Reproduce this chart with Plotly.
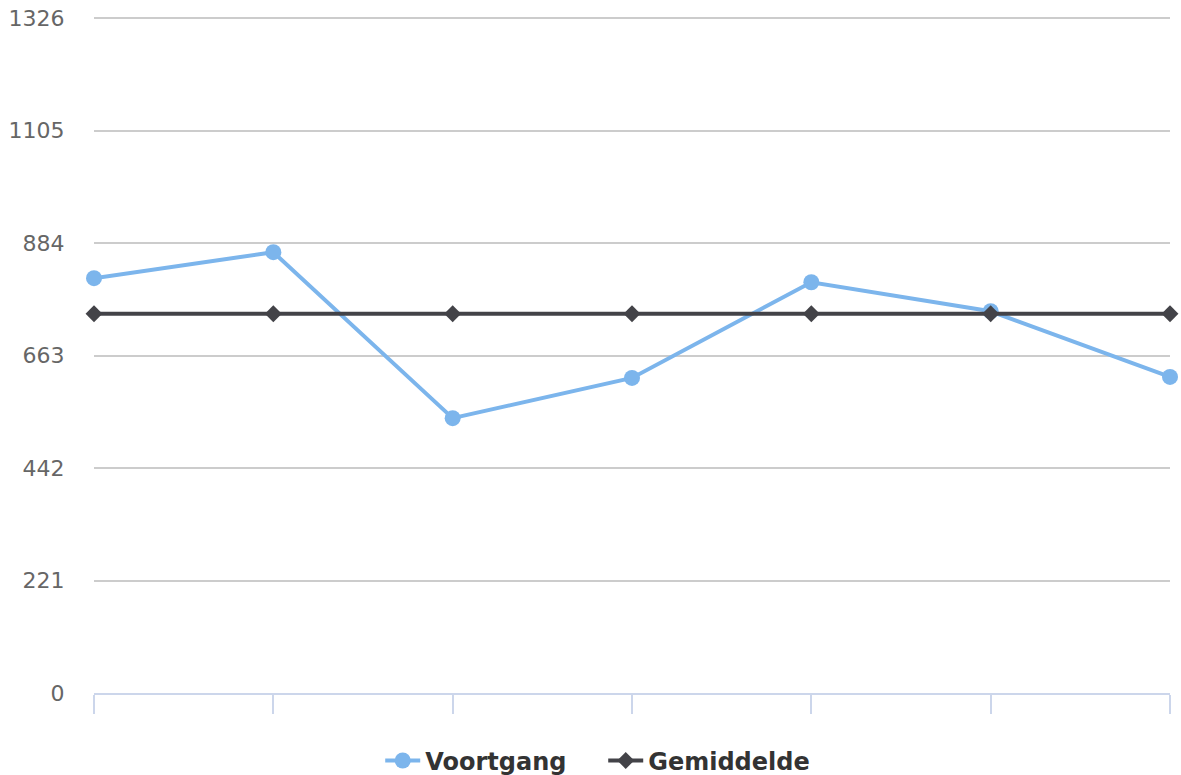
import plotly.graph_objects as go

categories = [0, 1, 2, 3, 4, 5, 6]
voortgang = [815, 866, 540, 619, 807, 750, 621]
gemiddelde = [745, 745, 745, 745, 745, 745, 745]
y_ticks = [0, 221, 442, 663, 884, 1105, 1326]

fig = go.Figure()
fig.add_trace(go.Scatter(
    x=categories, y=voortgang, name="Voortgang", mode="lines+markers",
    line=dict(color="#7cb5ec", width=4),
    marker=dict(symbol="circle", size=16, color="#7cb5ec"),
    cliponaxis=False,
))
fig.add_trace(go.Scatter(
    x=categories, y=gemiddelde, name="Gemiddelde", mode="lines+markers",
    line=dict(color="#434348", width=4),
    marker=dict(symbol="diamond", size=13, color="#434348"),
    cliponaxis=False,
))

fig.update_layout(
    width=1181, height=775,
    margin=dict(l=94, r=11, t=14, b=82, autoexpand=False),
    paper_bgcolor="white", plot_bgcolor="white",
    font=dict(family="DejaVu Sans, sans-serif"),
    showlegend=True,
    legend=dict(
        orientation="h", x=0.266, xanchor="left", y=-0.1, yanchor="middle",
        font=dict(size=24, color="#333333", family="DejaVu Sans, sans-serif", weight="bold"),
        itemwidth=35, entrywidth=173, entrywidthmode="pixels",
    ),
    xaxis=dict(
        range=[0, 6], tickvals=categories, showticklabels=False,
        ticks="outside", ticklen=19, tickcolor="#ccd6eb", tickwidth=2,
        showline=True, linecolor="#ccd6eb", linewidth=2,
        showgrid=False, zeroline=False, fixedrange=True,
    ),
    yaxis=dict(
        range=[0, 1334], tickvals=y_ticks, ticktext=[str(v) for v in y_ticks],
        showgrid=True, gridcolor="#cccccc", gridwidth=1.5,
        zeroline=False, showline=False, fixedrange=True,
        tickfont=dict(size=22, color="#666666"),
        ticks="outside", ticklen=24, tickcolor="rgba(0,0,0,0)",
    ),
)

fig.write_html(
    "out.html",
    config={"displayModeBar": False},
    post_script="document.body.style.margin='0';document.body.style.overflow='hidden';",
)
